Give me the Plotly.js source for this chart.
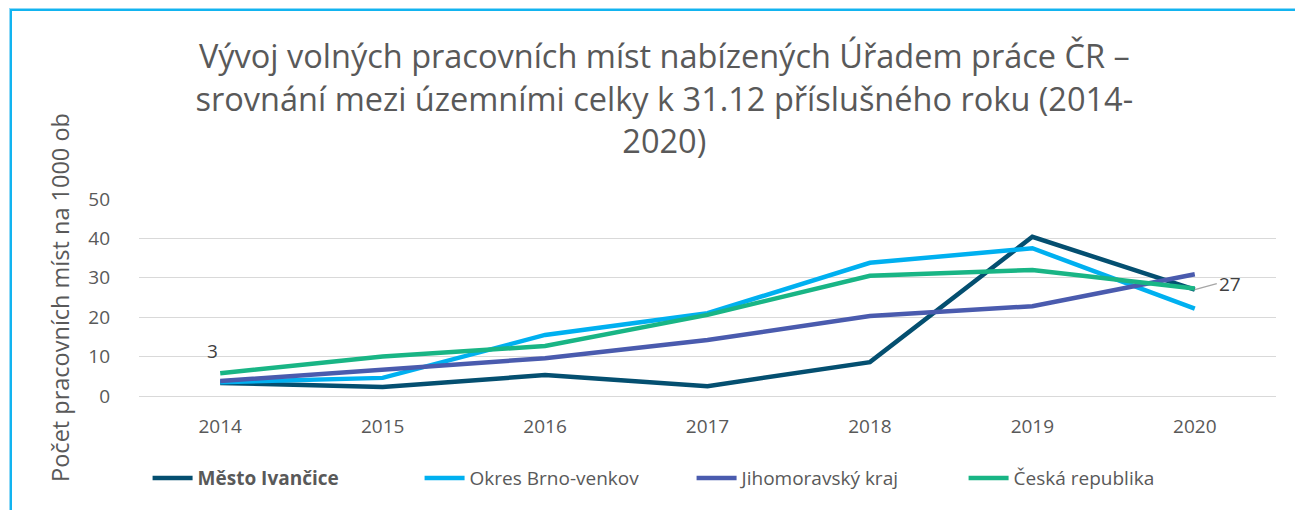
<!DOCTYPE html>
<html>
<head>
<meta charset="utf-8">
<script src="https://cdn.plot.ly/plotly-3.0.1.min.js"></script>
<style>
html,body{margin:0;padding:0;background:#fff;}
#wrap{position:relative;width:1295px;height:510px;overflow:hidden;}
#chart{position:absolute;left:0;top:0;width:1295px;height:510px;}
#frame{position:absolute;left:10px;top:9px;width:1300px;height:520px;border-left:2px solid #12b4f0;border-top:2px solid #12b4f0;box-shadow:-1px -1px 0 #8fd9f7;pointer-events:none;}
</style>
</head>
<body>
<div id="wrap"><div id="chart"></div><div id="frame"></div></div>
<script>
const years = ['2014','2015','2016','2017','2018','2019','2020'];
const seriesNames = ['Město Ivančice','Okres Brno-venkov','Jihomoravský kraj','Česká republika'];
const ivancice = [3.3, 2.3, 5.3, 2.5, 8.6, 40.4, 27.0];
const brnoVenkov = [3.5, 4.6, 15.5, 21.0, 33.8, 37.5, 22.2];
const jihomoravsky = [3.8, 6.8, 9.6, 14.2, 20.3, 22.8, 30.9];
const ceskaRepublika = [5.8, 10.0, 12.7, 20.6, 30.5, 32.0, 27.3];
const yTicks = [0, 10, 20, 30, 40, 50];
const titleText = 'Vývoj volných pracovních míst nabízených Úřadem práce ČR –<br>srovnání mezi územními celky k 31.12 příslušného roku (2014-<br>2020)';
const yTitle = 'Počet pracovních míst na 1000 ob';

const colors = ['#044f70', '#00b0f0', '#4a5bae', '#19b585'];
const values = [ivancice, brnoVenkov, jihomoravsky, ceskaRepublika];
const font = 'Open Sans, Lato, sans-serif';
const grey = '#595959';

const traces = values.map((v, i) => ({
  type: 'scatter', mode: 'lines',
  x: years, y: v,
  name: i === 0 ? '<b>' + seriesNames[i] + '</b>' : seriesNames[i],
  line: {color: colors[i], width: 4.5},
  hoverinfo: 'x+y+name'
}));

const last = years.length - 1;
const annotations = [
  {x: 0, y: ivancice[0], xref: 'x', yref: 'y', text: String(Math.round(ivancice[0])),
   showarrow: false, xshift: -8, yshift: 32, font: {family: font, size: 19, color: '#404040'}},
  {x: last, y: ivancice[last], xref: 'x', yref: 'y', text: String(Math.round(ivancice[last])),
   showarrow: true, arrowhead: 0, arrowwidth: 1.3, arrowcolor: '#a6a6a6', ax: 22, ay: -6,
   xanchor: 'left', font: {family: font, size: 19, color: '#404040'}}
];

const layout = {
  width: 1295, height: 510,
  paper_bgcolor: '#fff', plot_bgcolor: '#fff',
  margin: {l: 139, r: 19, t: 199, b: 114},
  font: {family: font, color: grey},
  title: {text: titleText, x: 0.513, xanchor: 'center', y: 0.866, yanchor: 'top',
          yref: 'container', font: {family: font, size: 32.5, color: grey}},
  xaxis: {type: 'category', showgrid: false, zeroline: false, showline: false,
          ticks: '', tickfont: {family: font, size: 19, color: grey}, ticklabelstandoff: 17,
          range: [-0.5, years.length - 0.5]},
  yaxis: {range: [0, 50], tickvals: yTicks, showgrid: true, gridcolor: '#d9d9d9', gridwidth: 1,
          zeroline: true, zerolinecolor: '#d9d9d9', zerolinewidth: 1, showline: false, ticks: '',
          tickfont: {family: font, size: 19, color: grey}, ticklabelstandoff: 28,
          title: {text: yTitle, standoff: 12, font: {family: font, size: 23.5, color: grey}}},
  legend: {orientation: 'h', x: 0.486, xanchor: 'center', y: -0.32, yanchor: 'top',
           font: {family: font, size: 19, color: grey}, itemwidth: 40, tracegroupgap: 0,
           entrywidth: 217},
  annotations: annotations,
  showlegend: true
};

Plotly.newPlot('chart', traces, layout, {displayModeBar: false, staticPlot: true});
</script>
</body>
</html>
